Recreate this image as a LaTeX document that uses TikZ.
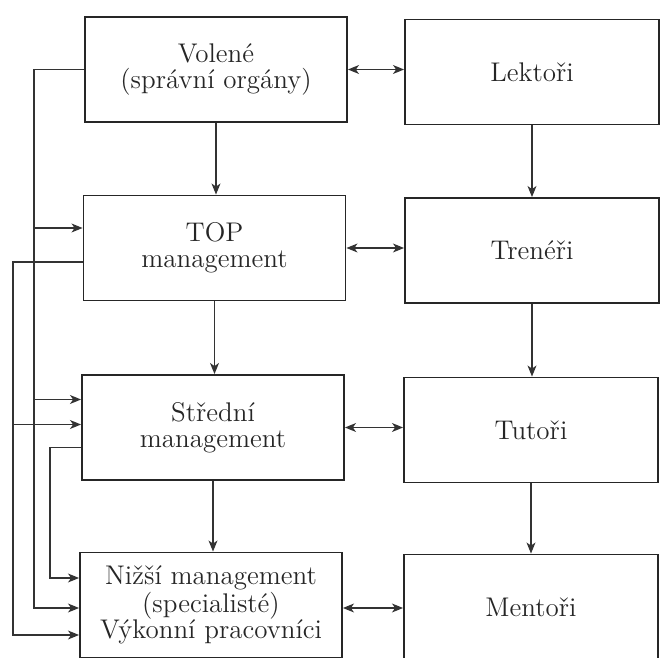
\documentclass[tikz,border=0pt]{standalone}
\usepackage{fontspec}
\usetikzlibrary{arrows.meta,calc}

\begin{document}
\begin{tikzpicture}[
  x=0.5pt, y=-0.5pt,
  box/.style={draw=black!85, line width=0.9pt, minimum width=131pt, minimum height=52.5pt,
    inner sep=0pt, align=center, text=black!85, font=\fontsize{13.5}{12.8}\selectfont},
  rbox/.style={box, minimum width=127pt},
  arr/.style={draw=black!80, line width=0.8pt, -{Stealth[length=5.5pt,width=4.4pt,inset=1.5pt]}},
  dbl/.style={arr, {Stealth[length=5.5pt,width=4.4pt,inset=1.5pt]}-{Stealth[length=5.5pt,width=4.4pt,inset=1.5pt]}}
]
\useasboundingbox[fill=white] (0,0) rectangle (661,658);

% left column
\node[box] (vol) at (216,69.5) {Volené\\(správní orgány)};
\node[box] (top) at (214.5,248) {TOP\\management};
\node[box] (str) at (213,427.5) {Střední\\management};
\node[box] (niz) at (211,605) {Nižší management\\(specialisté)\\Výkonní pracovníci};

% right column
\node[rbox] (lek) at (532,72) {Lektoři};
\node[rbox] (tre) at (532,250.5) {Trenéři};
\node[rbox] (tut) at (531,430) {Tutoři};
\node[rbox] (men) at (531,607) {Mentoři};

% down arrows
\draw[arr] (vol.south) -- (vol.south |- top.north);
\draw[arr] (top.south) -- (top.south |- str.north);
\draw[arr] (str.south) -- (str.south |- niz.north);
\draw[arr] (lek.south) -- (lek.south |- tre.north);
\draw[arr] (tre.south) -- (tre.south |- tut.north);
\draw[arr] (tut.south) -- (tut.south |- men.north);

% both ways
\draw[dbl] (vol.east) -- (vol.east -| lek.west);
\draw[dbl] (top.east) -- (top.east -| tre.west);
\draw[dbl] (str.east) -- (str.east -| tut.west);
\draw[dbl] ($(niz.east)+(0,3)$) coordinate (nizR) -- (nizR -| men.west);

% feedback lines on the left
\coordinate (busA) at (34,0);
\coordinate (busB) at (13,0);
\coordinate (busC) at (50,0);
\coordinate (topIn) at ($(top.west)+(0,-20)$);
\coordinate (topOut) at ($(top.west)+(0,14)$);
\coordinate (strIn1) at ($(str.west)+(0,-28)$);
\coordinate (strIn2) at ($(str.west)+(0,-3)$);
\coordinate (strOut) at ($(str.west)+(0,20)$);
\coordinate (nizIn1) at ($(niz.west)+(0,-27)$);
\coordinate (nizIn2) at ($(niz.west)+(0,3)$);
\coordinate (nizIn3) at ($(niz.west)+(0,30)$);

\draw[arr] (vol.west) -| (busA |- nizIn2) -- (nizIn2);
\draw[arr] (busA |- topIn) -- (topIn);
\draw[arr] (busA |- strIn1) -- (strIn1);
\draw[arr] (topOut) -| (busB |- nizIn3) -- (nizIn3);
\draw[arr] (busB |- strIn2) -- (strIn2);
\draw[arr] (strOut) -| (busC |- nizIn1) -- (nizIn1);

\end{tikzpicture}
\end{document}
